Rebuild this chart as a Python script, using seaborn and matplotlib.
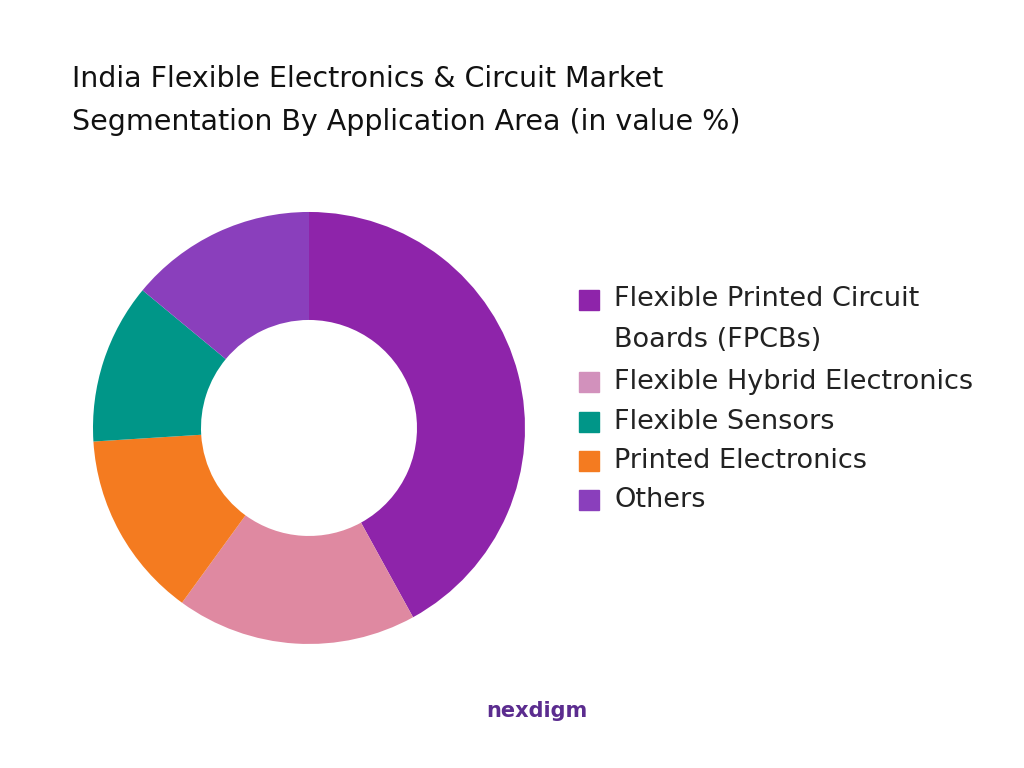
import matplotlib.pyplot as plt
import seaborn as sns

sns.set_theme(style="white")
plt.rcParams['font.family'] = ['DejaVu Sans']

labels = ['Flexible Printed Circuit\nBoards (FPCBs)', 'Flexible Hybrid Electronics',
          'Flexible Sensors', 'Printed Electronics', 'Others']
shares = [42, 18, 12, 14, 14]
legend_colors = ['#8E24AA', '#D291BC', '#009688', '#F47B20', '#8A3FBC']
slice_colors = ['#8E24AA', '#DF89A1', '#009688', '#F47B20', '#8A3FBC']
# order of drawing around the ring (clockwise from top)
ring_order = [0, 1, 3, 2, 4]

fig = plt.figure(figsize=(10.24, 7.68), dpi=100)
ax = fig.add_axes([0.0908, 0.1615, 0.4219, 0.5625])
ax.pie([shares[i] for i in ring_order], colors=[slice_colors[i] for i in ring_order],
       startangle=90, counterclock=False, radius=1,
       wedgeprops=dict(width=0.5, edgecolor='none'))
ax.set_xlim(-1, 1)
ax.set_ylim(-1, 1)
ax.set_aspect('equal')

fig.text(0.07, 0.916, 'India Flexible Electronics & Circuit Market\nSegmentation By Application Area (in value %)',
         fontsize=20.5, va='top', linespacing=1.7, color='#111111')

ys = [0.609, 0.503, 0.45, 0.4, 0.349]
for lab, c, y in zip(labels, legend_colors, ys):
    fig.patches.append(plt.Rectangle((0.565, y - 0.013), 0.02, 0.026, color=c,
                                     transform=fig.transFigure, figure=fig))
    if '\n' in lab:
        fig.text(0.6, 0.627, lab, fontsize=19.5, va='top', color='#222222', linespacing=1.75)
    else:
        fig.text(0.6, y, lab, fontsize=19.5, va='center', color='#222222')

fig.text(0.475, 0.067, 'nexdigm', fontsize=15, fontweight='bold', color='#5B2C8F')
fig.savefig('out.png', dpi=100)
